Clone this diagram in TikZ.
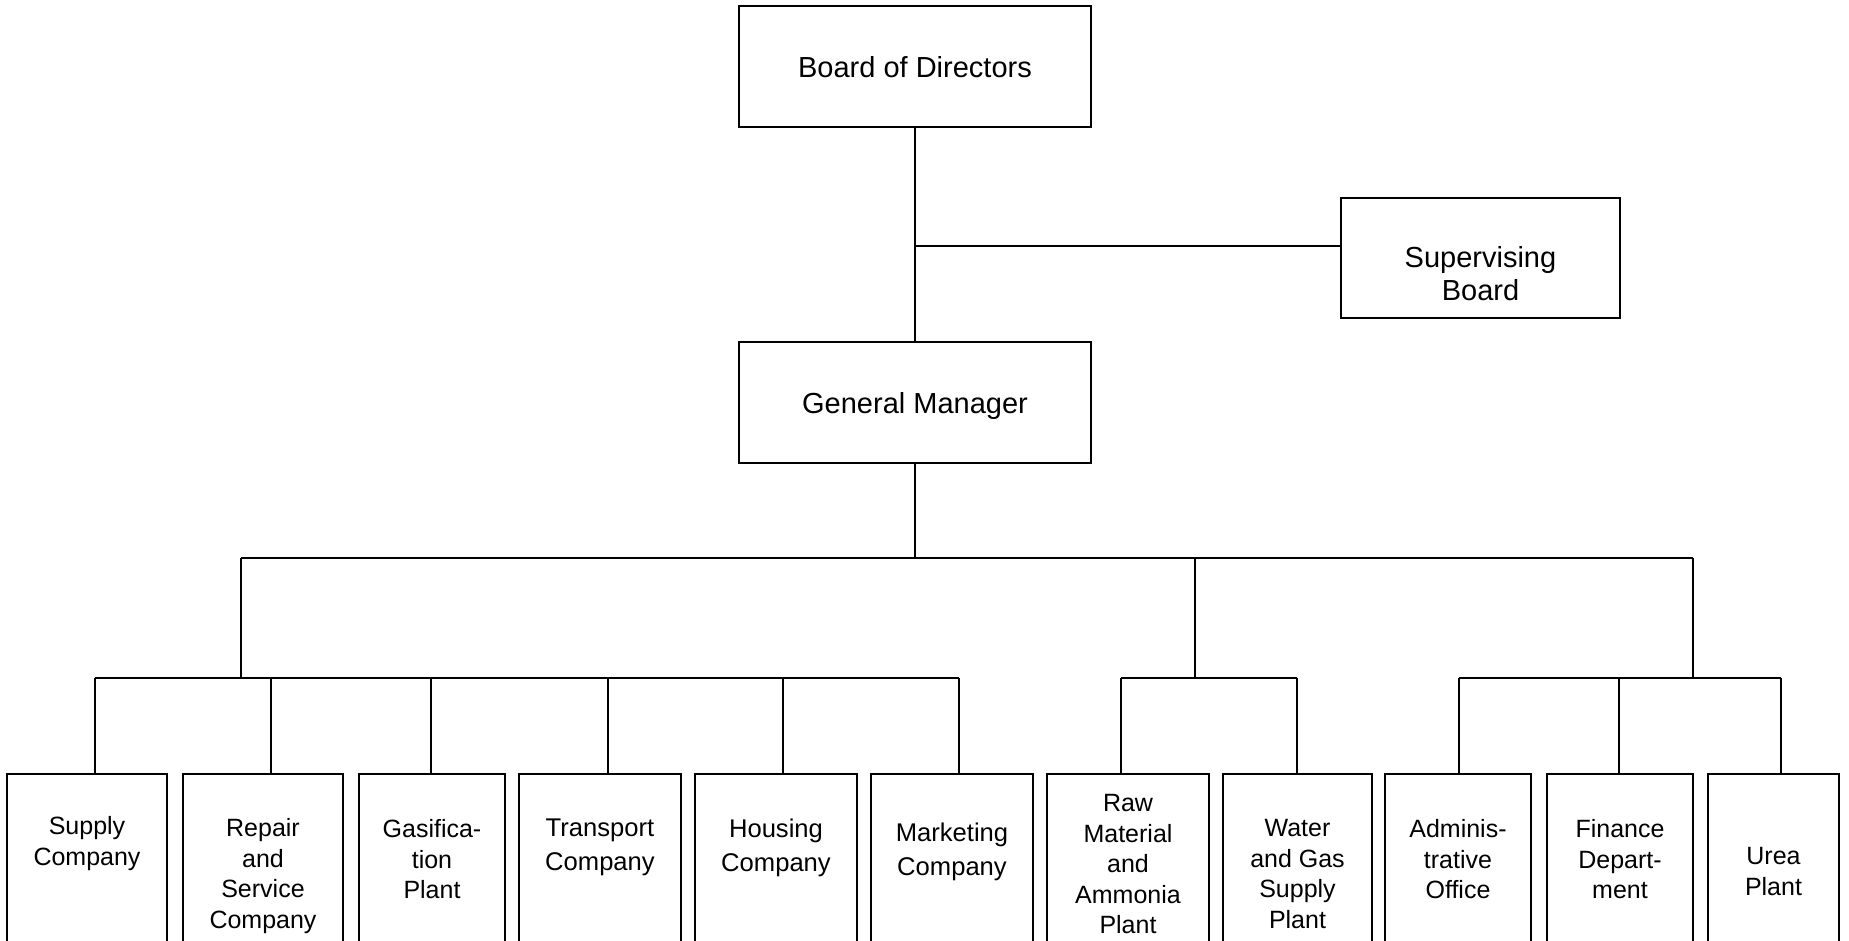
\documentclass[tikz,border=0pt]{standalone}
\usepackage{fontspec}
\setmainfont{Liberation Sans}
\begin{document}
\begin{tikzpicture}[x=0.5pt,y=-0.5pt,line width=0.75pt,
  box/.style={draw,rectangle,inner sep=0pt},
  headbox/.style={box,minimum width=176pt,minimum height=60.5pt,
    text depth=0pt,font=\fontsize{14.5pt}{15pt}\selectfont},
  unit/.style={box,minimum height=120pt},
  headlbl/.style={anchor=north,inner sep=0pt,align=center,
    font=\fontsize{14.5pt}{16.2pt}\selectfont},
  lbl/.style={anchor=north,inner sep=0pt,align=center,
    font=\fontsize{12.5pt}{15.25pt}\selectfont},
  widelbl/.style={lbl,font=\fontsize{12.8pt}{17pt}\selectfont}]
\useasboundingbox (0,0) rectangle (1849,941);
\begin{scope}
\clip (0,0) rectangle (1849,941);

% top of the chart
\node[headbox] (bod) at (915,66.5) {Board of Directors};
\node[headbox] (gm) at (915,402.5) {General Manager};
\node[box,minimum width=139.5pt,minimum height=60pt] (sb) at (1480.5,258) {};
\node[headlbl] (sbt) at (1480.5,246) {Supervising\\Board};

% units (boxes run past the lower edge)
\node[unit,minimum width=80pt] (u1) at (87,894) {};
\node[unit,minimum width=80pt] (u2) at (263,894) {};
\node[unit,minimum width=73pt] (u3) at (432,894) {};
\node[unit,minimum width=81pt] (u4) at (600,894) {};
\node[unit,minimum width=81pt] (u5) at (776,894) {};
\node[unit,minimum width=81pt] (u6) at (952,894) {};
\node[unit,minimum width=81pt] (u7) at (1128,894) {};
\node[unit,minimum width=74.5pt] (u8) at (1297.5,894) {};
\node[unit,minimum width=73pt] (u9) at (1458,894) {};
\node[unit,minimum width=73pt] (u10) at (1620,894) {};
\node[unit,minimum width=65.5pt] (u11) at (1773.5,894) {};

% unit labels
\node[lbl] (t1) at (87,816) {Supply\\Company};
\node[lbl] (t2) at (263,818) {Repair\\and\\Service\\Company};
\node[lbl] (t3) at (432,819) {Gasifica-\\tion\\Plant};
\node[widelbl] (t4) at (600,818) {Transport\\Company};
\node[widelbl] (t5) at (776,818) {Housing\\Company};
\node[widelbl] (t6) at (952,822) {Marketing\\Company};
\node[lbl] (t7) at (1128,794) {Raw\\Material\\and\\Ammonia\\Plant};
\node[lbl] (t8) at (1297.5,819) {Water\\and Gas\\Supply\\Plant};
\node[lbl] (t9) at (1458,819) {Adminis-\\trative\\Office};
\node[lbl] (t10) at (1620,819) {Finance\\Depart-\\ment};
\node[lbl] (t11) at (1773.5,847) {Urea\\Plant};

% spine and supervising branch
\coordinate (j0) at (915,246);
\draw (bod.south) -- (gm.north);
\draw (j0) -- (j0 -| sb.west);

% first bus
\coordinate (bl) at (241,558);
\coordinate (bm) at (1195,558);
\coordinate (br) at (1693,558);
\draw (gm.south) -- (gm.south |- bl);
\draw (bl) -- (br);

% group buses
\coordinate (d1) at (95,678);
\coordinate (d2) at (271,678);
\coordinate (d3) at (431,678);
\coordinate (d4) at (608,678);
\coordinate (d5) at (783,678);
\coordinate (d6) at (959,678);
\coordinate (d7) at (1121,678);
\coordinate (d8) at (1297,678);
\coordinate (d9) at (1459,678);
\coordinate (d10) at (1619,678);
\coordinate (d11) at (1781,678);
\draw (bl) -- (bl |- d1);
\draw (bm) -- (bm |- d7);
\draw (br) -- (br |- d9);
\draw (d1) -- (d6);
\draw (d7) -- (d8);
\draw (d9) -- (d11);

% drops to units
\foreach \i in {1,...,11}
  \draw (d\i) -- (d\i |- u\i.north);
\end{scope}
\end{tikzpicture}
\end{document}
